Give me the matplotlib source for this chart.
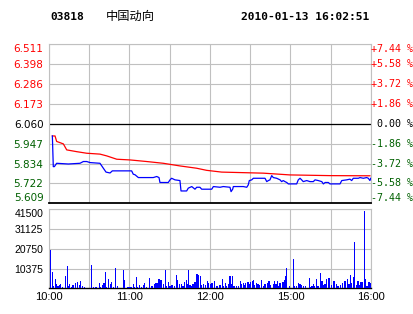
import matplotlib
matplotlib.use("Agg")
import matplotlib.pyplot as plt
from matplotlib.transforms import blended_transform_factory

# stock header
code = "03818"
name = "中国动向"
stamp = "2010-01-13 16:02:51"

# price axis (left) and change axis (right)
price_ticks = [6.511, 6.398, 6.286, 6.173, 6.060, 5.947, 5.834, 5.722, 5.609]
pct_labels = ["+7.44 %", "+5.58 %", "+3.72 %", "+1.86 %", "0.00 %",
              "-1.86 %", "-3.72 %", "-5.58 %", "-7.44 %"]
prev_close = 6.060

# trading minutes since 10:00 (lunch break removed)
time_ticks = [0, 30, 60, 90, 120, 150, 180, 210, 240]
time_labels = ["10:00", "", "11:00", "", "12:00", "", "15:00", "", "16:00"]

# average price (red)
avg_t = [2.5, 4.5, 5.7, 8.2, 10.7, 13.2, 20.6, 28.1, 38, 43, 50.5, 60.4, 72.8,
         85.2, 97.6, 110, 117.5, 128.7, 159.7, 179.6, 209.4, 239.2]
avg_p = [5.991, 5.991, 5.960, 5.953, 5.946, 5.912, 5.902, 5.893, 5.888, 5.878,
         5.859, 5.855, 5.846, 5.836, 5.821, 5.808, 5.796, 5.786, 5.780, 5.770,
         5.766, 5.765]

# last price (blue)
px_t = [2.5, 3.2, 4.0, 5.7, 14.4, 23.1, 25.6, 28.1, 30.6, 38, 40.5, 42.5, 45.5,
        47.2, 61.6, 62.8, 64.1, 66.6, 77.7, 80.3, 82, 82.7, 88.9, 90.2, 91.4,
        93.9, 97.6, 98.4, 102.6, 103.8, 106.4, 108.8, 110.1, 112.5, 113.8,
        121.3, 122.5, 127.5, 129.9, 134.9, 135.7, 136.9, 137.4, 144.8, 147.4,
        148.5, 149.3, 151.1, 152.3, 161, 162.3, 163.5, 164.7, 166, 167.2,
        169.7, 172.2, 173.4, 174.6, 175.9, 177.2, 178.4, 184.6, 185.8, 187.1,
        188.3, 189.5, 192.1, 194.5, 197, 198.3, 200.7, 203.3, 204.5, 205.8,
        208.2, 209.4, 216.9, 218.2, 221.9, 224.3, 225.6, 226.8, 230.6, 231.8,
        234.3, 236.8, 238, 239.2, 239.8]
px_p = [5.991, 5.817, 5.817, 5.836, 5.832, 5.836, 5.846, 5.846, 5.840, 5.836,
        5.808, 5.786, 5.781, 5.793, 5.793, 5.774, 5.771, 5.755, 5.755, 5.761,
        5.755, 5.727, 5.727, 5.742, 5.751, 5.742, 5.738, 5.679, 5.679, 5.695,
        5.704, 5.689, 5.700, 5.700, 5.689, 5.689, 5.704, 5.700, 5.704, 5.700,
        5.675, 5.689, 5.704, 5.704, 5.700, 5.713, 5.738, 5.742, 5.751, 5.751,
        5.732, 5.738, 5.742, 5.766, 5.755, 5.751, 5.742, 5.732, 5.738, 5.732,
        5.727, 5.719, 5.719, 5.742, 5.751, 5.742, 5.732, 5.738, 5.732, 5.732,
        5.742, 5.738, 5.732, 5.719, 5.727, 5.727, 5.719, 5.719, 5.738, 5.742,
        5.746, 5.738, 5.751, 5.751, 5.755, 5.751, 5.755, 5.751, 5.738, 5.751]

# volume bars
vol_ticks = [10375, 20750, 31125, 41500]
vol_t = [1.0, 2.5, 3.2, 4.7, 5.4, 6.7, 8.0, 8.7, 10.4, 12.1, 13.6, 14.7, 15.4,
         16.6, 17.9, 18.6, 19.9, 20.9, 22.4, 23.3, 25.1, 26.6, 32.0, 33.0,
         34.5, 35.6, 37.5, 38.5, 39.7, 41.0, 42.0, 43.0, 44.2, 45.5, 46.4,
         47.9, 49.4, 50.9, 55.4, 56.6, 58.9,
         60.4, 61.3, 62.8, 63.9, 65.1, 66.3, 67.6, 68.8, 70.1, 71.3, 72.5, 74.8,
         76.2, 77.3, 78.3, 79.2, 80.5, 82.0, 83.5, 85.0, 86.7, 87.7, 88.9, 90.2,
         91.2, 92.2, 93.2, 94.9, 96.1, 97.4, 98.6, 99.9, 101.1, 102.3, 103.1,
         103.8, 105.1, 106.1, 107.1, 108.1, 108.8, 110.3, 111.6, 113.1, 114.0,
         115.0, 116.5, 117.8, 119.0,
         120.2, 121.5, 122.2, 123.2, 124.5, 125.7, 127.2, 128.0, 129.2, 130.4,
         131.4, 132.4, 133.9, 134.9, 135.9, 136.6, 137.9, 139.6, 140.9, 142.6,
         143.8, 145.1, 146.1, 146.8, 148.3, 149.3, 150.3, 151.5, 152.3, 153.3,
         154.5, 155.8, 157.0, 158.5, 160.0, 161.0, 161.7, 162.7, 164.0, 165.2,
         167.2, 168.2, 169.2, 170.2, 171.2, 172.2, 173.7, 174.4, 175.4, 175.9,
         176.6, 177.2,
         179.1, 182.1, 183.1, 184.3, 185.8, 187.1, 188.0, 189.8, 191.0, 194.0,
         195.0, 196.0, 197.0, 198.0, 199.5, 200.5, 202.2, 203.5, 204.7, 205.7,
         206.7, 208.0, 208.7, 210.9, 212.4, 214.1, 215.4, 217.1, 218.6, 220.1,
         220.9, 222.6, 223.6, 224.6, 225.8, 226.8, 227.8, 229.0, 230.3, 231.3,
         232.3, 233.3, 235.0, 235.8, 237.0, 238.5, 239.5]
vol_v = [20100, 8400, 1000, 5100, 2400, 1000, 1600, 2100, 800, 6300, 11500,
         1000, 2400, 900, 1900, 1000, 2800, 3100, 1500, 3800, 1400, 700, 12100,
         700, 700, 700, 2800, 900, 1600, 2800, 8400, 800, 4700, 2000, 3100, 800,
         10500, 1400, 9400, 4500, 800,
         800, 800, 2100, 700, 5800, 900, 1600, 900, 1600, 3000, 700, 5300,
         1000, 1000, 2100, 2800, 2800, 4700, 4200, 2100, 9800, 1000, 3500, 1400,
         1700, 1700, 1000, 6800, 4200, 2100, 2100, 1000, 3300, 4500, 2100,
         9400, 1600, 1000, 2400, 2100, 3100, 7700, 7000, 6600, 1700,
         2100, 1700, 3800, 2800,
         2100, 2800, 1600, 4000, 1000, 1000, 1600, 1900, 5100, 1000,
         2800, 1000, 2100, 6300, 2100, 6300, 1000, 1000, 1000, 4000,
         2400, 2800, 1700, 2800, 3100, 2400, 3500, 3800, 4200, 1600,
         2800, 2400, 1600, 4200, 1000, 2400, 1700, 2800, 4000, 1600,
         2400, 4000, 2100, 3800, 1000, 2800, 1700, 3100, 2400, 4200,
         6300, 10500,
         1000, 15200, 1000, 1000, 3000, 2300, 1600, 1000, 1000, 5300,
         700, 1000, 2400, 1000, 4700, 1000, 8200, 4000, 1600, 2300,
         4700, 5100, 5400, 1900, 4000, 2300, 1000, 1600, 3000, 3700,
         4000, 4700, 2300, 6800, 3000, 6100, 24200, 1600, 4000, 1600,
         3300, 3300, 40400, 4700, 1200, 3300, 2600]

RED = "#FF0000"
GREEN = "#006000"
BLUE = "#0000FF"
GRID = "#C0C0C0"

W, H = 414, 314
fig = plt.figure(figsize=(W / 100, H / 100), dpi=100)
fig.patch.set_facecolor("white")


def frac(x0, y0, x1, y1):
    # pixel box -> figure fraction rect
    return [x0 / W, 1 - y1 / H, (x1 - x0) / W, (y1 - y0) / H]


ax = fig.add_axes(frac(49, 44.3, 371, 203.3))
av = fig.add_axes(frac(49, 209.3, 371, 288.3), sharex=ax)

# ---- price panel
ax.set_xlim(time_ticks[0], time_ticks[-1])
ax.set_ylim(price_ticks[-1], price_ticks[0])
ax.set_xticks(time_ticks)
ax.set_yticks(price_ticks)
ax.grid(True, color=GRID, lw=0.8)
ax.set_axisbelow(True)
ax.axhline(prev_close, color="black", lw=0.9, zorder=2)
ax.plot(avg_t, avg_p, color=RED, lw=0.9, zorder=3)
ax.plot(px_t, px_p, color=BLUE, lw=0.9, zorder=4)

ax.tick_params(axis="x", length=0, labelbottom=False)
ax.tick_params(axis="y", length=0, pad=4, labelsize=7.5)
ax.set_yticklabels([f"{v:.3f}" for v in price_ticks])
ylabs = ax.get_yticklabels()
for v, lab in zip(price_ticks, ylabs):
    lab.set_color(RED if v > prev_close else ("black" if v == prev_close else GREEN))
# end labels sit inside the panel edges
ylabs[0].set_va("top")
ylabs[-1].set_va("bottom")

for s in ["top", "left", "right"]:
    ax.spines[s].set_color(GRID)
    ax.spines[s].set_linewidth(0.8)
ax.spines["bottom"].set_color("black")
ax.spines["bottom"].set_linewidth(1.3)

# right side percent labels
trans = blended_transform_factory(fig.transFigure, ax.transData)
n = len(price_ticks)
for i, (v, lab) in enumerate(zip(price_ticks, pct_labels)):
    c = RED if v > prev_close else ("black" if v == prev_close else GREEN)
    va = "top" if i == 0 else ("bottom" if i == n - 1 else "center")
    fig.text(413 / W, v, lab, transform=trans, ha="right", va=va,
             family="DejaVu Sans Mono", fontsize=7.2, color=c)

# ---- volume panel
av.bar(vol_t, vol_v, width=0.8, color=BLUE, linewidth=0, antialiased=False,
       zorder=3)
av.set_ylim(0, vol_ticks[-1])
av.set_yticks(vol_ticks)
av.set_yticklabels([str(v) for v in vol_ticks], family="Liberation Sans",
                   fontsize=7.5)
av.get_yticklabels()[-1].set_va("top")
av.set_xticks(time_ticks)
av.set_xticklabels(time_labels, family="Liberation Sans", fontsize=8)
av.grid(True, color=GRID, lw=0.8)
av.set_axisbelow(True)
av.tick_params(length=0)
av.tick_params(axis="y", pad=4)
av.tick_params(axis="x", pad=3)
for s in ["top", "left", "right"]:
    av.spines[s].set_color(GRID)
    av.spines[s].set_linewidth(0.8)
av.spines["bottom"].set_color("black")
av.spines["bottom"].set_linewidth(1.0)

# ---- header
fig.text(50 / W, 1 - 16.5 / H, code, family="DejaVu Sans Mono",
         weight="bold", fontsize=8.1, va="center", ha="left")
fig.text(106 / W, 1 - 16.5 / H, name, family=["Noto Sans CJK SC", "DejaVu Sans"],
         fontsize=8.8, va="center", ha="left")
fig.text(369 / W, 1 - 16.5 / H, stamp, family="DejaVu Sans Mono",
         weight="bold", fontsize=8.1, va="center", ha="right")

fig.savefig("out.png", dpi=100)
